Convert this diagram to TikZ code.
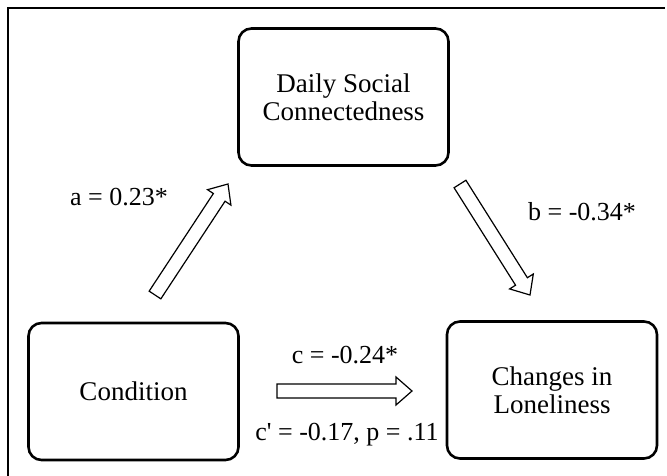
\documentclass[tikz,border=0pt]{standalone}
\usepackage{fontspec}
\setmainfont{Liberation Serif}
\usetikzlibrary{calc}
\tikzstyle{caja} = [draw, line width=2.6pt, rounded corners=13pt, minimum width=210pt, minimum height=137pt, align=center, font=\fontsize{27}{28}\selectfont]
\tikzstyle{coeficiente} = [font=\fontsize{26}{28}\selectfont, inner sep=0pt]
\tikzstyle{flecha} = [draw, line width=1.2pt, fill=white, line join=miter]
\newcommand{\flechagruesa}[2]{%
	\coordinate (fh) at ($(#2)!16pt!(#1)$);
	\draw[flecha] ($(#1)!7pt!90:(#2)$) -- ($(fh)!7pt!90:(#2)$) -- ($(fh)!14pt!90:(#2)$) -- (#2)
		-- ($(fh)!14pt!-90:(#2)$) -- ($(fh)!7pt!-90:(#2)$) -- ($(#1)!7pt!-90:(#2)$) -- cycle;}

\begin{document}
\begin{tikzpicture}[x=1pt,y=-1pt]
	\useasboundingbox (0,0) rectangle (667,476);
	\draw[line width=2pt] (8,476) -- (8,8) -- (665,8);
	\node[caja] (social) at (343.5,97) {Daily Social\\Connectedness};
	\node[caja] (condition) at (133.5,391.5) {Condition};
	\node[caja] (loneliness) at (552,390) {Changes in\\Loneliness};
	% flechas
	\coordinate (a-ini) at (155,295);
	\coordinate (a-fin) at (228,184);
	\coordinate (b-ini) at (460,184);
	\coordinate (b-fin) at (530,295);
	\coordinate (c-ini) at (277,391);
	\coordinate (c-fin) at (412,391);
	\flechagruesa{a-ini}{a-fin}
	\flechagruesa{b-ini}{b-fin}
	\flechagruesa{c-ini}{c-fin}
	\node[coeficiente] (coefa) at (119,197) {a = 0.23*};
	\node[coeficiente] (coefb) at (582,212) {b = -0.34*};
	\node[coeficiente] (coefc) at (345,355) {c = -0.24*};
	\node[coeficiente] (coefcp) at (347,435) {c\textquotesingle{} = -0.17, p = .11};
\end{tikzpicture}
\end{document}
